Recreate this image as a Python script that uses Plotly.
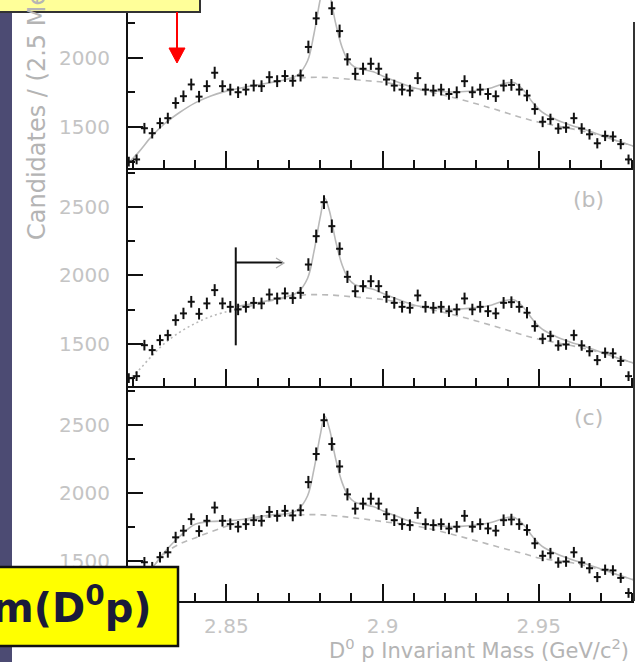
import numpy as np
import plotly.graph_objects as go

W, H = 643, 662

# ---------------- data ----------------
BIN_START = 2.81875      # first bin centre (GeV/c^2)
BIN_WIDTH = 0.0025       # 2.5 MeV bins
counts = [1250, 1265, 1491, 1455, 1528, 1564, 1674, 1723, 1808, 1720,
          1796, 1893, 1796, 1771, 1752, 1771, 1800, 1796, 1861, 1832,
          1869, 1835, 1873, 2080, 2287, 2535, 2360, 2195, 1990, 1885,
          1922, 1958, 1922, 1844, 1800, 1771, 1764, 1854, 1771, 1764,
          1771, 1739, 1752, 1832, 1752, 1771, 1739, 1723, 1800, 1805,
          1771, 1728, 1630, 1538, 1557, 1489, 1496, 1564, 1489, 1447,
          1382, 1436, 1431, 1376, 1265]
mass = BIN_START + BIN_WIDTH * np.arange(len(counts))
errors = np.sqrt(np.array(counts, dtype=float))

# fit curves
tot_a_x = [2.8185, 2.822, 2.826, 2.830, 2.835, 2.840, 2.845, 2.850, 2.855, 2.860,
           2.865, 2.870, 2.873, 2.876, 2.878, 2.880, 2.8815, 2.883, 2.885, 2.887,
           2.889, 2.891, 2.894, 2.897, 2.900, 2.905, 2.910, 2.915, 2.920, 2.925,
           2.930, 2.935, 2.939, 2.942, 2.945, 2.948, 2.951, 2.955, 2.960, 2.965,
           2.970, 2.975, 2.9805]
tot_a_y = [1235, 1320, 1430, 1520, 1605, 1675, 1725, 1760, 1785, 1805,
           1825, 1850, 1880, 1980, 2170, 2420, 2565, 2470, 2250, 2080,
           1980, 1935, 1915, 1900, 1870, 1825, 1785, 1765, 1755, 1755,
           1765, 1785, 1815, 1822, 1770, 1680, 1610, 1560, 1515, 1480,
           1440, 1400, 1360]
bg_a_x = [2.870, 2.875, 2.880, 2.885, 2.890, 2.895, 2.900, 2.905, 2.910, 2.915,
          2.920, 2.925, 2.930, 2.935, 2.940, 2.945, 2.950, 2.955, 2.960, 2.965,
          2.970, 2.975, 2.9805]
bg_a_y = [1850, 1858, 1860, 1855, 1845, 1835, 1825, 1805, 1780, 1755,
          1728, 1700, 1668, 1635, 1600, 1565, 1535, 1512, 1490, 1465,
          1435, 1400, 1360]

# panel (b): fit starts at the cut
CUT_MASS = 2.853
tot_b_x = [2.853, 2.855, 2.860, 2.865] + tot_a_x[11:]
tot_b_y = [1770, 1780, 1800, 1825] + tot_a_y[11:]
bgdot_b_x = [2.8185, 2.822, 2.826, 2.830, 2.835, 2.840, 2.845, 2.850, 2.853]
bgdot_b_y = [1235, 1310, 1410, 1500, 1585, 1650, 1700, 1735, 1750]
bg_b_x = [2.853, 2.860, 2.865] + bg_a_x
bg_b_y = [1750, 1790, 1820] + [1840] + bg_a_y[1:]

# panel (c)
tot_c_x = tot_a_x
tot_c_y = [1240, 1330, 1440, 1560, 1680, 1770, 1790, 1795, 1805, 1825,
           1840] + tot_a_y[11:]
bg_c_x = [2.8185, 2.822, 2.826, 2.830, 2.835, 2.840, 2.845, 2.850, 2.855, 2.860,
          2.870, 2.880, 2.890, 2.900, 2.910, 2.920, 2.930, 2.940, 2.945, 2.950,
          2.955, 2.960, 2.965, 2.970, 2.975, 2.9805]
bg_c_y = [1235, 1320, 1440, 1550, 1625, 1670, 1715, 1755, 1790, 1815,
          1835, 1840, 1820, 1790, 1760, 1710, 1648, 1585, 1555, 1522,
          1505, 1490, 1465, 1435, 1400, 1360]

x_tick_vals = [2.85, 2.9, 2.95]
x_tick_text = ["2.85", "2.9", "2.95"]
y_tick_vals = [1500, 2000, 2500]
y_tick_text = ["1500", "2000", "2500"]
panel_labels = ["", "(b)", "(c)"]

# ---------------- layout helpers ----------------
def px(x):
    return x / W

def py(y):
    return 1 - y / H

X_RANGE = [2.8185, 2.9805]
X_DOM = [px(128), px(634)]
panels = [  # (top px, bottom px, y range)
    (0, 168, [1203, 2420]),
    (170, 386, [1193, 2770]),
    (388, 601, [1206, 2772]),
]

FIT_COL = "#b9b9b9"
LAB_COL = "#c4c4c4"
TICK_FONT = dict(family="DejaVu Sans", size=20, color=LAB_COL)

fig = go.Figure()

def add_points(i):
    sfx = "" if i == 0 else str(i + 1)
    fig.add_trace(go.Scatter(
        x=mass, y=counts, mode="markers",
        marker=dict(symbol="line-ew", size=5, line=dict(width=2, color="#111111")),
        error_y=dict(type="data", array=errors, width=0, thickness=2, color="#111111"),
        xaxis="x" + sfx, yaxis="y" + sfx, showlegend=False, cliponaxis=True))

def add_line(i, xs, ys, dash):
    sfx = "" if i == 0 else str(i + 1)
    fig.add_trace(go.Scatter(
        x=xs, y=ys, mode="lines", line=dict(color=FIT_COL, width=1.6, dash=dash, shape="spline"),
        xaxis="x" + sfx, yaxis="y" + sfx, showlegend=False, hoverinfo="skip"))

# panel a
add_line(0, bg_a_x, bg_a_y, "6px,5px")
add_line(0, tot_a_x, tot_a_y, "solid")
add_points(0)
# panel b
add_line(1, bgdot_b_x, bgdot_b_y, "2px,3px")
add_line(1, bg_b_x, bg_b_y, "6px,5px")
add_line(1, tot_b_x, tot_b_y, "solid")
add_points(1)
# panel c
add_line(2, bg_c_x, bg_c_y, "6px,5px")
add_line(2, tot_c_x, tot_c_y, "solid")
add_points(2)

layout = dict(
    width=W, height=H, margin=dict(l=0, r=0, t=0, b=0),
    paper_bgcolor="white", plot_bgcolor="white", showlegend=False,
)
for i, (top, bot, yr) in enumerate(panels):
    sfx = "" if i == 0 else str(i + 1)
    last = i == 2
    xa = dict(
        domain=X_DOM, range=X_RANGE, anchor="y" + sfx,
        showgrid=False, zeroline=False, showline=True, linecolor="#111111", linewidth=2,
        ticks="inside", ticklen=17, tickwidth=2, tickcolor="#111111",
        tickvals=x_tick_vals, showticklabels=last, tickfont=TICK_FONT,
        minor=dict(ticks="inside", ticklen=8, tickwidth=2, tickcolor="#111111", dtick=0.01, tick0=2.8),
    )
    if last:
        xa.update(ticktext=x_tick_text, ticklabelstandoff=6)
    layout["xaxis" + sfx] = xa
    layout["yaxis" + sfx] = dict(
        domain=[py(bot), py(top)], range=yr, anchor="x" + sfx,
        showgrid=False, zeroline=False, showline=True, linecolor="#111111", linewidth=2,
        ticks="inside", ticklen=15, tickwidth=2, tickcolor="#111111",
        tickvals=y_tick_vals, ticktext=y_tick_text, tickfont=TICK_FONT, ticklabelstandoff=12,
        minor=dict(ticks="inside", ticklen=7, tickwidth=2, tickcolor="#111111", dtick=250, tick0=0),
    )
fig.update_layout(**layout)

shapes = []
# right frame line
shapes.append(dict(type="line", xref="paper", yref="paper", x0=px(634), x1=px(634),
                   y0=py(22), y1=py(601), line=dict(color="#333333", width=2)))
# dark band at left
shapes.append(dict(type="rect", xref="paper", yref="paper", x0=0, x1=px(12), y0=0, y1=1,
                   fillcolor="#4c4b73", line=dict(width=0), layer="above"))
# top yellow box
shapes.append(dict(type="rect", xref="paper", yref="paper", x0=px(-3), x1=px(200), y0=py(12), y1=py(-3),
                   fillcolor="#ffff99", line=dict(color="#333333", width=2), layer="above"))
# red arrow
shapes.append(dict(type="line", xref="paper", yref="paper", x0=px(177), x1=px(177), y0=py(12), y1=py(50),
                   line=dict(color="#ff0000", width=2), layer="above"))
shapes.append(dict(type="path", xref="paper", yref="paper",
                   path=f"M {px(169)} {py(48)} L {px(185)} {py(48)} L {px(177)} {py(63)} Z",
                   fillcolor="#ff0000", line=dict(color="#ff0000", width=1), layer="above"))
# fit range marker in panel b
shapes.append(dict(type="line", xref="x2", yref="y2", x0=CUT_MASS, x1=CUT_MASS, y0=1490, y1=2205,
                   line=dict(color="#111111", width=2)))
shapes.append(dict(type="line", xref="x2", yref="y2", x0=CUT_MASS, x1=2.868, y0=2095, y1=2095,
                   line=dict(color="#111111", width=2)))
shapes.append(dict(type="path", xref="paper", yref="paper",
                   path=f"M {px(276)} {py(258)} L {px(284)} {py(263)} L {px(276)} {py(268)}",
                   line=dict(color="#aaaaaa", width=1.2)))
# bottom yellow box
shapes.append(dict(type="rect", xref="paper", yref="paper", x0=px(-3), x1=px(178), y0=py(646), y1=py(567),
                   fillcolor="#ffff00", line=dict(color="#111111", width=2.5), layer="above"))
fig.update_layout(shapes=shapes)

ann = []
ann.append(dict(text="Candidates / (2.5 MeV/c²)", xref="paper", yref="paper",
                x=px(37), y=py(242), xanchor="center", yanchor="bottom", textangle=-90,
                showarrow=False, font=dict(family="DejaVu Sans", size=24, color="#b4b4b4")))
ann.append(dict(text="D<sup>0</sup> p Invariant Mass (GeV/c<sup>2</sup>)", xref="paper", yref="paper",
                x=px(479), y=py(649), xanchor="center", yanchor="middle",
                showarrow=False, font=dict(family="DejaVu Sans", size=21, color="#b4b4b4")))
for i, lab in enumerate(panel_labels):
    if not lab:
        continue
    top = panels[i][0]
    ann.append(dict(text=lab, xref="paper", yref="paper", x=px(588), y=py(top + 29),
                    xanchor="center", yanchor="middle", showarrow=False,
                    font=dict(family="DejaVu Sans", size=22, color="#bdbdbd")))
ann.append(dict(text="<b>m(D<sup>0</sup>p)</b>", xref="paper", yref="paper",
                x=px(154), y=py(605), xanchor="right", yanchor="middle", showarrow=False,
                font=dict(family="DejaVu Sans", size=40, color="#1a1a3a")))
fig.update_layout(annotations=ann)

fig.write_html("out.html", config={"displayModeBar": False},
               post_script="document.body.style.margin='0';document.body.style.overflow='hidden';")
